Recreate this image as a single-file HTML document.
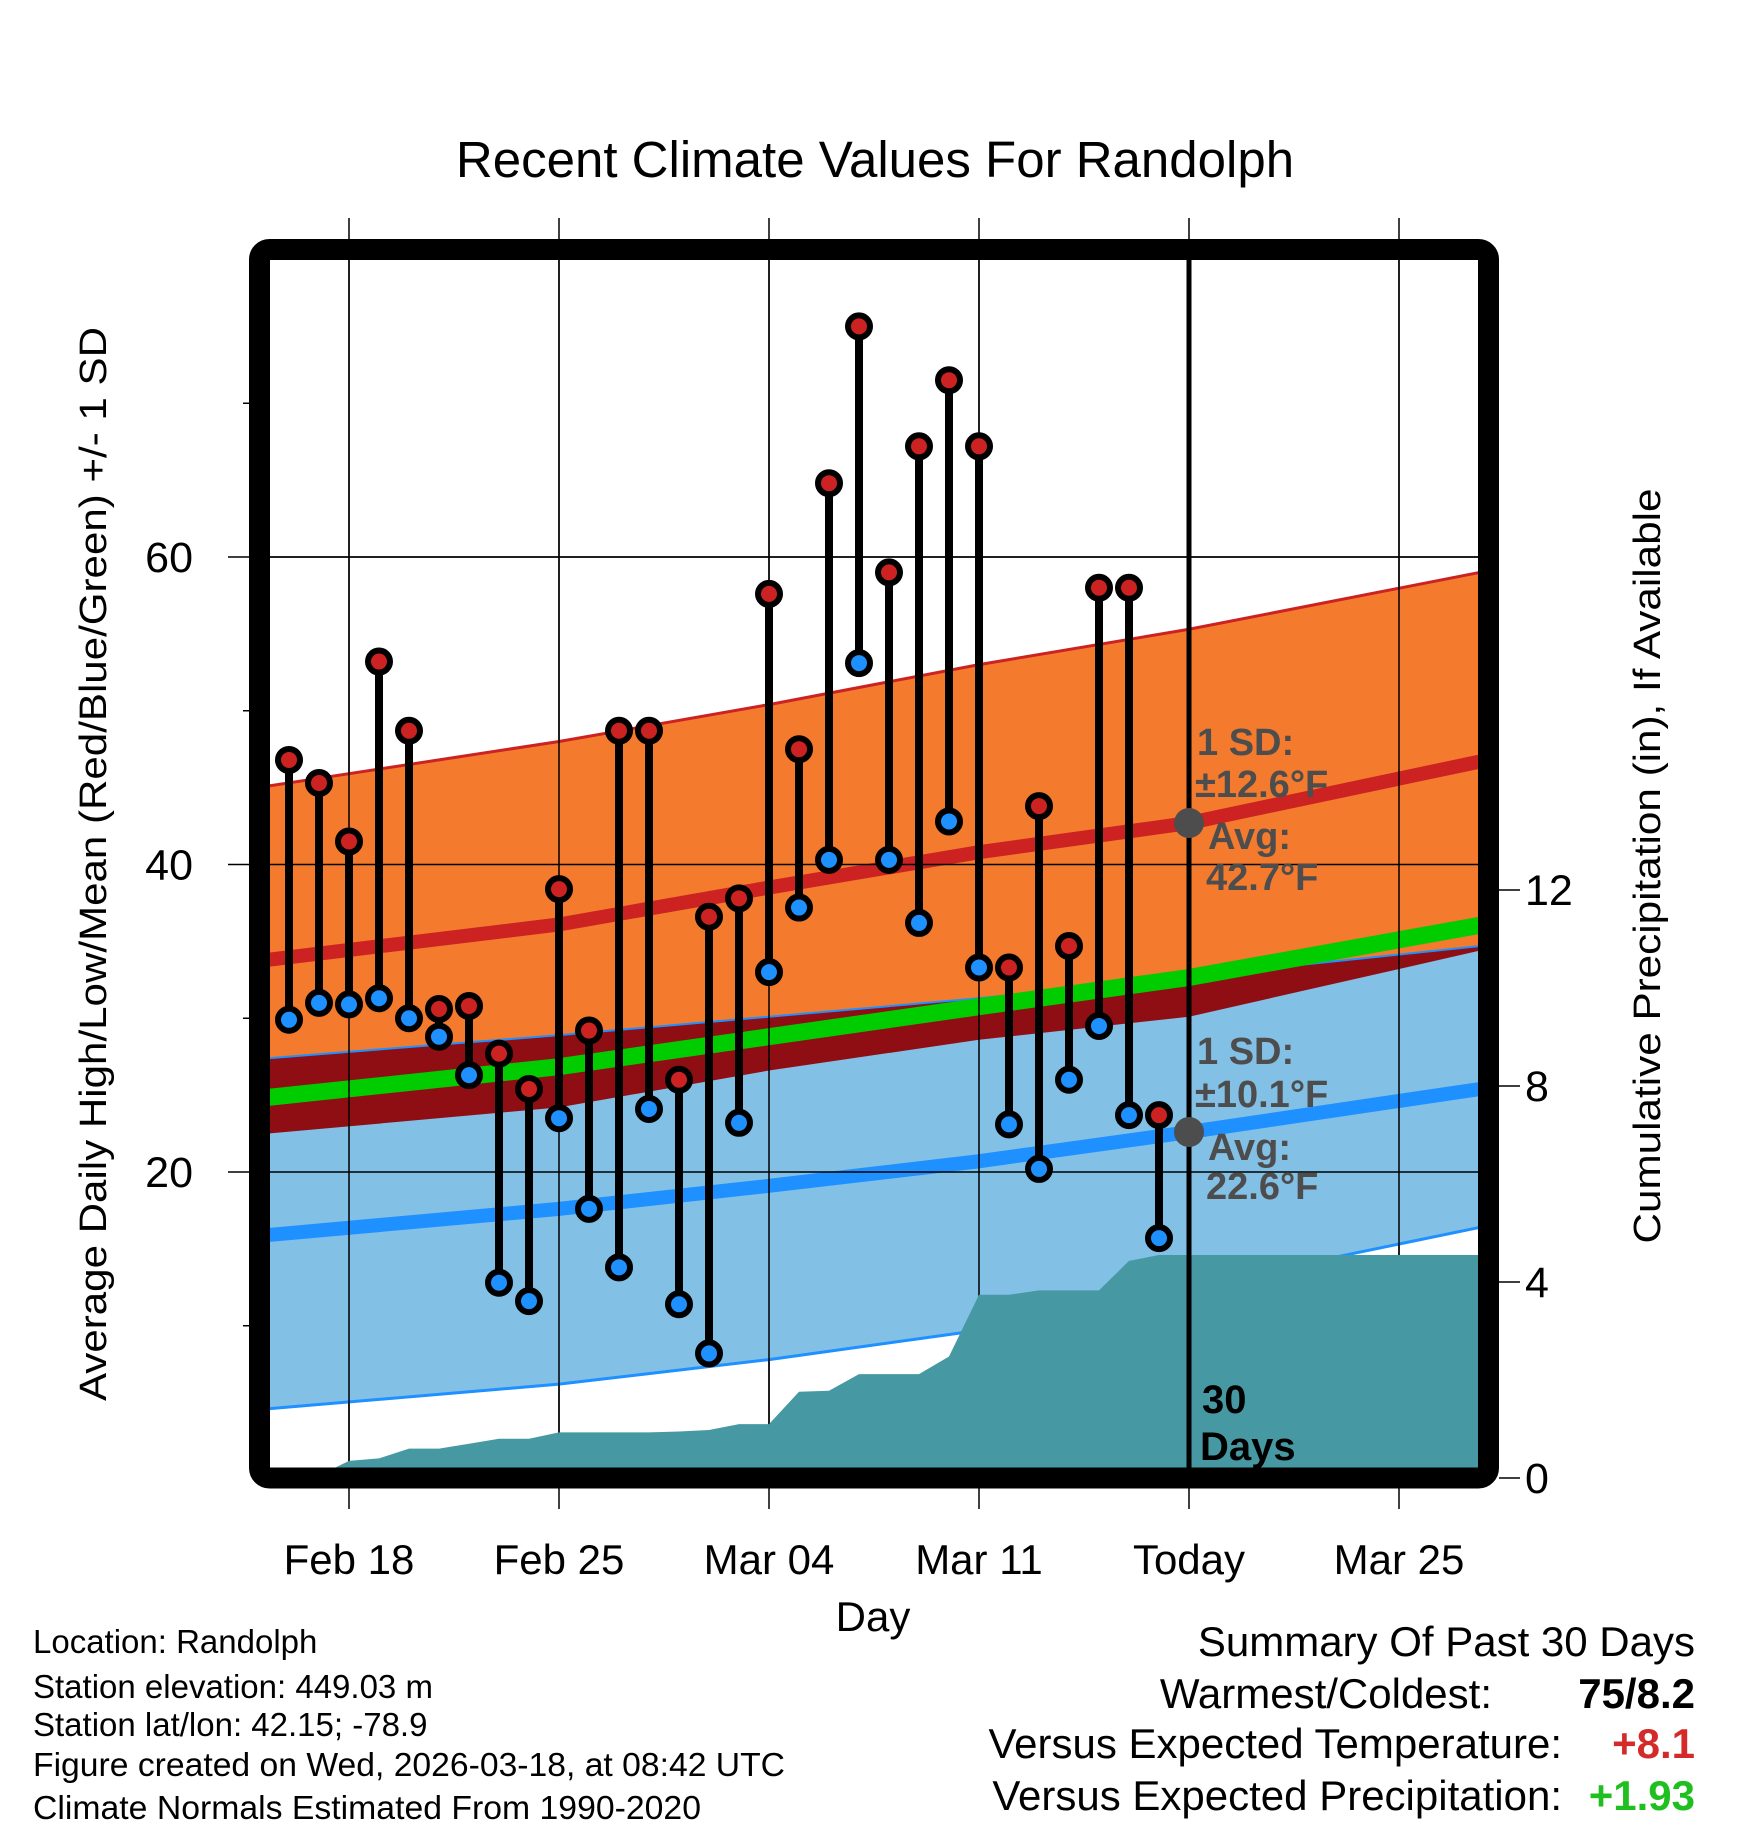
<!DOCTYPE html>
<html><head><meta charset="utf-8"><style>
html,body{margin:0;padding:0;background:#fff}
svg{display:block;font-family:"Liberation Sans",Arial,sans-serif}
</style></head><body>
<svg id="chart" width="1748" height="1828" viewBox="0 0 1748 1828" xmlns="http://www.w3.org/2000/svg">
<defs><clipPath id="plotclip"><rect x="270" y="260" width="1208" height="1208"/></clipPath></defs>
<text x="875" y="177" font-size="51" text-anchor="middle">Recent Climate Values For Randolph</text>
<g id="plot" clip-path="url(#plotclip)"></g>
<g id="over"></g>
<text transform="translate(106,864) rotate(-90)" font-size="38" text-anchor="middle" textLength="1074" lengthAdjust="spacingAndGlyphs">Average Daily High/Low/Mean (Red/Blue/Green) +/- 1 SD</text>
<text transform="translate(1660,866) rotate(-90)" font-size="38" text-anchor="middle" textLength="755" lengthAdjust="spacingAndGlyphs">Cumulative Precipitation (in), If Available</text>
<text x="873" y="1631" font-size="42" text-anchor="middle">Day</text>
<g font-size="33">
<text x="33" y="1653">Location: Randolph</text>
<text x="33" y="1698">Station elevation: 449.03 m</text>
<text x="33" y="1736">Station lat/lon: 42.15; -78.9</text>
<text x="33" y="1776" textLength="752" lengthAdjust="spacingAndGlyphs">Figure created on Wed, 2026-03-18, at 08:42 UTC</text>
<text x="33" y="1819" textLength="668" lengthAdjust="spacingAndGlyphs">Climate Normals Estimated From 1990-2020</text>
</g>
<g font-size="42">
<text x="1695" y="1656" text-anchor="end">Summary Of Past 30 Days</text>
<text x="1492" y="1708" text-anchor="end">Warmest/Coldest:</text>
<text x="1695" y="1708" text-anchor="end" font-weight="bold">75/8.2</text>
<text x="1562" y="1758" text-anchor="end">Versus Expected Temperature:</text>
<text x="1695" y="1758" text-anchor="end" font-weight="bold" fill="#d42a2a">+8.1</text>
<text x="1562" y="1810" text-anchor="end">Versus Expected Precipitation:</text>
<text x="1695" y="1810" text-anchor="end" font-weight="bold" fill="#1fbf1f">+1.93</text>
</g>
</svg>
<script>
// ---- data ----
const obsDays = [-2,-1,0,1,2,3,4,5,6,7,8,9,10,11,12,13,14,15,16,17,18,19,20,21,22,23,24,25,26,27];
const highs = [46.8,45.3,41.5,53.2,48.7,30.6,30.8,27.7,25.4,38.4,29.2,48.7,48.7,26.0,36.6,37.8,57.6,47.5,64.8,75.0,59.0,67.2,71.5,67.2,33.3,43.8,34.7,58.0,58.0,23.7];
const lows = [29.9,31.0,30.9,31.3,30.0,28.8,26.3,12.8,11.6,23.5,17.6,13.8,24.1,11.4,8.2,23.2,33.0,37.2,40.3,53.1,40.3,36.2,42.8,33.3,23.1,20.2,26.0,29.5,23.7,15.7];
const normDays = [-2.7,7,14,21,28,37.7];
const normHigh = [33.8,36.1,38.5,40.8,42.7,46.7];
const normHighTop = [45.1,48.0,50.4,53.0,55.3,59.0];
const normLow = [15.9,17.6,19.1,20.7,22.6,25.4];
const normLowTop = [27.4,28.9,30.1,31.3,32.7,34.7];
const normLowBottom = [4.6,6.2,7.8,9.7,12.5,16.4];
const precipDays = [-2.7,-1,-0.5,0,1,2,3,4,5,6,7,8,9,10,11,12,13,14,15,16,17,18,19,20,21,22,23,24,25,26,27,37.7];
const precipCum = [0,0,0.2,0.35,0.4,0.6,0.6,0.7,0.8,0.8,0.93,0.93,0.93,0.93,0.95,0.98,1.1,1.1,1.76,1.78,2.12,2.12,2.12,2.48,3.74,3.74,3.83,3.83,3.83,4.43,4.55,4.55];
const xTickDays = [0,7,14,21,28,35];
const xTickLabels = ["Feb 18","Feb 25","Mar 04","Mar 11","Today","Mar 25"];
const yTicks = [20,40,60];
const yMinor = [10,30,50,70];
const pTicks = [0,4,8,12];

// ---- axes ----
const X = d => 349 + 30*d;
const Y = t => 1479.5 - 15.375*t;
const P = p => 1478 - 49*p;
const NS = "http://www.w3.org/2000/svg";
const plot = document.getElementById('plot');
const over = document.getElementById('over');
const svg = document.getElementById('chart');
function mk(tag, attrs, parent){const e=document.createElementNS(NS,tag);for(const k in attrs)e.setAttribute(k,attrs[k]);parent.appendChild(e);return e;}
function line(arr){return normDays.map((d,i)=>X(d)+','+Y(arr[i])).join(' ');}
function band(top,bot){const a=normDays.map((d,i)=>X(d)+','+Y(top[i]));const b=normDays.map((d,i)=>X(d)+','+Y(bot[i])).reverse();return a.concat(b).join(' ');}
const normHighBot = normHigh.map((m,i)=>2*m-normHighTop[i]);
const normMean = normHigh.map((m,i)=>(m+normLow[i])/2);

let e;
e = mk('polygon',{points:band(normHighTop,normHighBot),fill:'#f47a2e'},plot);


e = mk('polygon',{points:band(normLowTop,normLowBottom),fill:'#82c0e6'},plot);


const ovTop = normLowTop.map((v,i)=>Math.max(v,normHighBot[i]));
e = mk('polygon',{points:band(ovTop,normHighBot),fill:'#8e0e14'},plot);


e = mk('polyline',{points:line(normLowTop),fill:'none',stroke:'#1e90ff','stroke-width':2},plot);


e = mk('polyline',{points:line(normHighTop),fill:'none',stroke:'#cc2222','stroke-width':3},plot);


e = mk('polyline',{points:line(normLowBottom),fill:'none',stroke:'#1e90ff','stroke-width':3},plot);


e = mk('polyline',{points:line(normMean),fill:'none',stroke:'#00cc00','stroke-width':17},plot);


e = mk('polyline',{points:line(normHigh),fill:'none',stroke:'#cc2222','stroke-width':14},plot);


e = mk('polyline',{points:line(normLow),fill:'none',stroke:'#1e90ff','stroke-width':14},plot);



// gridlines (outer, behind)
const gOuter = svg.insertBefore(document.createElementNS(NS,'g'),plot);
yTicks.forEach(t=>{
  e = mk('line',{x1:228,x2:1499,y1:Y(t),y2:Y(t),stroke:'#000','stroke-width':1.5},gOuter);
  
  
});
xTickDays.forEach(d=>{
  e = mk('line',{x1:X(d),x2:X(d),y1:218,y2:1509,stroke:'#000','stroke-width':1.5},gOuter);
  
  
});
yTicks.forEach(t=>{
  e = mk('line',{x1:270,x2:1478,y1:Y(t),y2:Y(t),stroke:'#000','stroke-width':1.5},plot);
  
  
});
xTickDays.forEach(d=>{
  e = mk('line',{x1:X(d),x2:X(d),y1:260,y2:1468,stroke:'#000','stroke-width':1.5},plot);
  
  
});

// precipitation area
const pp = precipDays.map((d,i)=>X(d)+','+P(precipCum[i]));
pp.push(X(precipDays[precipDays.length-1])+','+P(0));
pp.push(X(precipDays[0])+','+P(0));
e = mk('polygon',{points:pp.join(' '),fill:'#4699a3'},plot);



// today line
e = mk('line',{x1:X(28),x2:X(28),y1:260,y2:1468,stroke:'#000','stroke-width':5},plot);



// annotations
const ann = [["1 SD:",1197,755],["\u00b112.6\u00b0F",1195,797],["Avg:",1208,849],["42.7\u00b0F",1206,890],["1 SD:",1197,1064],["\u00b110.1\u00b0F",1195,1107],["Avg:",1208,1160],["22.6\u00b0F",1206,1199]];
ann.forEach(a=>{
  e = mk('text',{x:a[1],y:a[2],'font-size':38,'font-weight':'bold',fill:'#4d4d4d'},plot);
  e.textContent=a[0];
  
  
});
[42.7,22.6].forEach(v=>{
  e = mk('circle',{cx:X(28),cy:Y(v),r:15,fill:'#4d4d4d'},plot);
  
  
});
e = mk('text',{x:1202,y:1413,'font-size':40,'font-weight':'bold'},plot); e.textContent='30';


e = mk('text',{x:1200,y:1460,'font-size':40,'font-weight':'bold'},plot); e.textContent='Days';



// observations
obsDays.forEach((d,i)=>{
  e = mk('line',{x1:X(d),x2:X(d),y1:Y(highs[i]),y2:Y(lows[i]),stroke:'#000','stroke-width':8},plot);
  
  
});
obsDays.forEach((d,i)=>{
  e = mk('circle',{cx:X(d),cy:Y(highs[i]),r:11,fill:'#cc2222',stroke:'#000','stroke-width':6},plot);
  
  
  e = mk('circle',{cx:X(d),cy:Y(lows[i]),r:11,fill:'#1e90ff',stroke:'#000','stroke-width':6},plot);
  
  
});

// frame
e = mk('rect',{x:259.5,y:249.5,width:1229,height:1228.5,rx:10,fill:'none',stroke:'#000','stroke-width':21},over);



// ticks & labels
yTicks.forEach(t=>{
  e = mk('text',{x:193,y:Y(t)+15,'font-size':43,'text-anchor':'end'},over); e.textContent=t;
  
  
});
yMinor.forEach(t=>{
  e = mk('line',{x1:243,x2:250,y1:Y(t),y2:Y(t),stroke:'#000','stroke-width':1.5},over);
  
  
});
xTickDays.forEach((d,i)=>{
  e = mk('text',{x:X(d),y:1574,'font-size':42,'text-anchor':'middle'},over); e.textContent=xTickLabels[i];
  
  
});
pTicks.forEach(p=>{
  e = mk('line',{x1:1499,x2:1520,y1:P(p),y2:P(p),stroke:'#000','stroke-width':1.5},over);
  
  
  e = mk('text',{x:1525,y:P(p)+15,'font-size':43},over); e.textContent=p;
  
  
});
</script>
</body></html>
